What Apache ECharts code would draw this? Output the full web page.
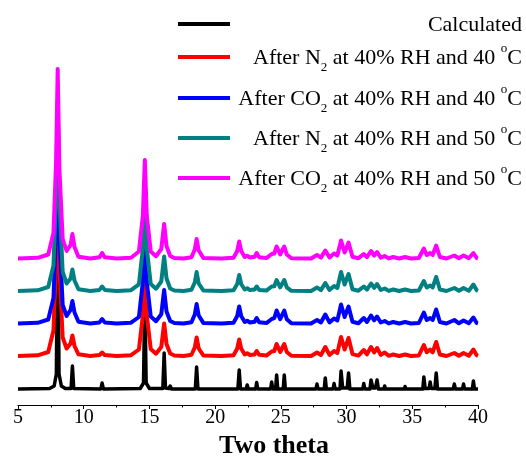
<!DOCTYPE html>
<html><head><meta charset="utf-8">
<script src="https://cdn.jsdelivr.net/npm/echarts@6/dist/echarts.min.js"></script>
<style>html,body{margin:0;padding:0;background:#fff}#c{width:526px;height:457px}</style>
</head><body><div id="c"></div><script>
// ---- data ----
const seriesNames = ['Calculated','After N2 at 40% RH and 40 °C','After CO2 at 40% RH and 40 °C','After N2 at 40% RH and 50 °C','After CO2 at 40% RH and 50 °C'];
const legendRich = [
  '{m|Calculated}',
  '{m|After N}{s|2}{m| at 40% RH and 40 }{o|o}{m|C}',
  '{m|After CO}{s|2}{m| at 40% RH and 40 }{o|o}{m|C}',
  '{m|After N}{s|2}{m| at 40% RH and 50 }{o|o}{m|C}',
  '{m|After CO}{s|2}{m| at 40% RH and 50 }{o|o}{m|C}'
];
const xTicks = [5,10,15,20,25,30,35,40];

// calculated pattern (own 2theta grid)
const calcTwoTheta = [5,7.4,7.75,7.92,8.02,8.12,8.3,8.6,9.04,9.14,9.24,11.3,11.4,11.5,14.3,14.55,14.65,14.75,15.0,16.02,16.12,16.22,16.5,16.58,16.68,18.49,18.59,18.69,21.73,21.83,21.93,22.36,22.44,22.52,23.08,23.16,23.24,24.22,24.3,24.38,24.6,24.68,24.76,25.18,25.26,25.34,27.67,27.75,27.83,28.3,28.38,28.46,28.97,29.05,29.13,29.5,29.58,29.7,30.05,30.15,30.25,31.23,31.31,31.39,31.78,31.86,32.0,32.2,32.32,32.42,32.84,32.9,32.96,33.5,33.55,33.6,34.4,34.45,34.5,35.8,35.88,35.98,36.28,36.36,36.44,36.72,36.82,36.92,38.12,38.2,38.28,38.82,38.9,38.98,39.57,39.65,39.73,40];
const calcIntensity = [0,0.5,3,15,188,15,3,0.5,0.5,23,0.5,0,6,0,0.5,6,94,6,0.5,0.5,36,1,0.5,3,0,0,22,0,0,19,0,0,4,0,0,6.5,0,0,7,0,0,14,0,0,14,0,0,5,0,0,11,0,0,5.5,0,0,18,1,1,16,0,0,5.5,0,0,9,1,1,9,0,0,3,0,0,2,0,0,2.5,0,0,12,0.5,0.5,7,0.5,0.5,16,0,0,5,0,0,5,0,0,8,0,0];

// measured patterns (common 2theta grid)
const twoTheta = [5.0,6.5,7.3,7.7,7.9,8.02,8.15,8.4,8.7,9.0,
  9.14,9.3,9.6,10.5,11.2,11.4,11.6,12.5,13.6,14.2,
  14.5,14.65,14.8,15.1,15.5,15.9,16.12,16.3,16.58,16.9,
  17.6,18.2,18.45,18.59,18.75,19.1,20.5,21.4,21.68,21.83,
  21.98,22.25,22.44,22.65,23.0,23.16,23.35,23.9,24.3,24.5,
  24.68,24.95,25.26,25.45,25.8,27.3,27.75,28.05,28.38,28.7,
  29.05,29.3,29.58,29.85,30.15,30.45,30.9,31.31,31.55,31.86,
  32.1,32.32,32.6,32.9,33.2,33.55,34.0,34.45,34.9,35.5,
  35.88,36.1,36.36,36.55,36.82,37.1,37.6,38.2,38.55,38.9,
  39.3,39.65,39.9,40.0];
const n2At40 = [0.5,1.2,4.5,26,95,185,88,19,8,13,
  21,10.5,2.2,0.6,1.4,4,1.4,0.4,1.3,7,
  41,95,41,7.5,2.8,9.5,33,12.5,3,1,
  0.5,1.7,9,19,8,1.1,0.4,1.3,8,17,
  8,2,3.3,1.5,2.1,5.5,1.7,0.9,5,5.5,
  12.5,4.5,12.5,4.5,0.7,0.5,4,1.5,9.5,1.6,
  5.5,3.6,19.5,7,18.5,2.4,0.9,6.5,2.2,9.5,
  4,8.5,1.6,4,0.7,2,0.5,2,0.5,1,
  11.5,4.2,7,4.2,14.5,2,0.5,3.5,0.7,3.5,
  0.8,7,1.2,0.6];
const co2At40 = [0.5,1.2,4.5,26,96,187,89,19,8,14,
  23,11.5,2.2,0.6,1.6,5,1.6,0.4,1.3,7,
  42,96,42,7.5,2.8,9.8,34,12.5,3,1,
  0.5,1.8,9.5,20,8.5,1.1,0.4,1.3,8,17.5,
  8,2,3.3,1.5,2.3,6,1.8,0.9,5,5.8,
  13.5,4.8,13.5,4.8,0.7,0.5,4,1.5,9.5,1.6,
  5.5,3.6,19.5,7,17.5,2.3,0.8,6,2,8.5,
  3.6,7.5,1.5,3,0.6,2,0.5,2,0.5,1,
  11.5,4,6,4,14.5,2,0.5,4,0.7,3.5,
  0.7,6.5,1,0.6];
const n2At50 = [0.5,1.2,4.5,26,97,189,90,19.5,8,13,
  22,11,2.2,0.6,1.6,5,1.6,0.4,1.3,7.2,
  43,98,43,7.5,2.8,10,35,13,3,1,
  0.5,1.7,9,19.5,8,1.1,0.4,1.2,7.5,16.5,
  7.5,2,3.3,1.4,2,5,1.6,0.9,5,5.2,
  11.5,4.2,11.5,4.2,0.7,0.5,4,1.4,8.5,1.5,
  5.5,3.5,19.5,7,17.5,2.3,0.8,5,1.9,8,
  3.6,7.5,1.5,3,0.6,2,0.5,2,0.5,1,
  10.5,4,6,4,14.5,2,0.5,3.5,0.7,3.5,
  0.8,7,1.2,0.6];
const co2At50 = [0.5,1.2,4.5,26,98,190,90,20,8,14,
  25,12,2.3,0.6,1.8,6,1.8,0.4,1.3,7.5,
  43,99,43,7.5,2.8,10,35,13,3,1,
  0.5,1.8,9.5,20,8.5,1.1,0.4,1.3,8,17.5,
  8,2,3.3,1.5,2.3,6,1.8,0.9,5,5.5,
  12.5,4.5,12.5,4.5,0.7,0.5,4,1.4,8.5,1.5,
  5.5,3.5,18.5,6.5,16.5,2.2,0.8,5,1.9,8,
  3.5,7,1.4,3,0.6,2,0.5,2,0.5,1,
  10.5,4,6,4,13.5,2,0.5,3.5,0.7,3.5,
  0.7,6,1,0.6];

// ---- presentation ----
const colors = ['#000000','#ff0000','#0000ff','#008080','#ff00ff'];
const baseOffset = 16, offsetStep = 32.5;
const serif = '"Liberation Serif","Times New Roman",serif';

const patterns = [
  {x: calcTwoTheta, y: calcIntensity},
  {x: twoTheta, y: n2At40},
  {x: twoTheta, y: co2At40},
  {x: twoTheta, y: n2At50},
  {x: twoTheta, y: co2At50}
];

const series = patterns.map((p, i) => ({
  name: seriesNames[i],
  type: 'line',
  showSymbol: false,
  symbol: 'none',
  animation: false,
  lineStyle: {color: colors[i], width: i === 0 ? 3.5 : 4, join: 'round'},
  data: p.x.map((x, k) => [x, p.y[k] + baseOffset + offsetStep * i])
}));

const legendY = [24, 57, 98, 138, 178];
const rich = {
  m: {fontFamily: serif, fontSize: 22, lineHeight: 32, fill: '#000', verticalAlign: 'middle'},
  s: {fontFamily: serif, fontSize: 13, lineHeight: 10, fill: '#000', verticalAlign: 'bottom'},
  o: {fontFamily: serif, fontSize: 13, lineHeight: 21, fill: '#000', verticalAlign: 'top'}
};
const graphic = [];
legendRich.forEach((t, i) => {
  graphic.push({type: 'line', shape: {x1: 178, y1: legendY[i], x2: 230, y2: legendY[i]},
    style: {stroke: colors[i], lineWidth: 4}});
  graphic.push({type: 'text', x: 522, y: legendY[i] + 1,
    style: {text: t, rich: rich, align: 'right', verticalAlign: 'middle', fill: '#000',
      fontFamily: serif, fontSize: 22}});
});

const chart = echarts.init(document.getElementById('c'), null, {renderer: 'canvas'});
chart.setOption({
  animation: false,
  backgroundColor: '#fff',
  grid: {left: 18, right: 48, top: 60, bottom: 52, containLabel: false, outerBoundsMode: 'none'},
  xAxis: {
    type: 'value', min: xTicks[0], max: xTicks[xTicks.length - 1], interval: 5,
    name: 'Two theta', nameLocation: 'middle', nameGap: 13,
    nameTextStyle: {fontFamily: serif, fontSize: 26, fontWeight: 'bold', color: '#000', padding: [0, 0, 0, 52]},
    axisLine: {show: true, onZero: false, lineStyle: {color: '#000', width: 1}},
    axisTick: {show: true, inside: false, length: 4, lineStyle: {color: '#000'}},
    minorTick: {show: true, splitNumber: 2, length: 2.5, lineStyle: {color: '#000'}},
    axisLabel: {fontFamily: serif, fontSize: 20, color: '#000', margin: 3},
    splitLine: {show: false}
  },
  yAxis: {type: 'value', min: 0, max: 345, show: false},
  series: series,
  graphic: graphic
});
</script></body></html>
